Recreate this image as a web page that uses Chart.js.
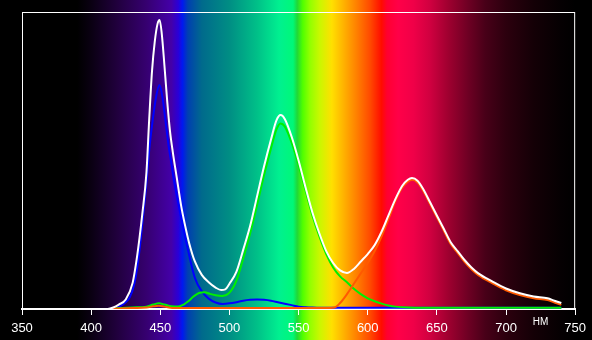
<!DOCTYPE html>
<html>
<head>
<meta charset="utf-8">
<script src="https://cdn.jsdelivr.net/npm/chart.js@4.4.1/dist/chart.umd.min.js"></script>
<style>
  html, body { margin: 0; padding: 0; background: #000; }
  #wrap { width: 592px; height: 340px; }
</style>
</head>
<body>
<div id="wrap"><canvas id="spectrum"></canvas></div>
<script>
// wavelength axis (nm)
const tickMin = 350;
const tickMax = 750;
const tickStep = 50;
const unitLabel = 'НМ';

// white field spectrum
const whiteNm  = [405, 412, 416, 420, 425, 430, 433, 435, 437, 440, 442, 444, 446, 448, 449.5, 451, 453, 455, 457, 459, 462, 465, 468, 471, 475, 480, 485, 490, 494, 497, 500, 505, 510, 515, 520, 525, 530, 534, 537, 540, 545, 550, 555, 560, 565, 570, 575, 580, 585, 590, 595, 600, 605, 610, 615, 620, 625, 629, 632, 636, 640, 645, 650, 655, 660, 665, 670, 675, 680, 690, 700, 710, 720, 730, 735, 740];
const whiteVal = [0, 0, 0.5, 1.5, 3.2, 8.8, 17, 24, 32, 46, 64, 80, 90, 96, 97.3, 93, 82, 70, 60, 53, 44, 35, 28, 22, 16, 11.5, 9, 7.2, 6.4, 6.6, 8.5, 12.5, 20, 28, 38, 48, 57, 63.5, 65.3, 64, 58, 50, 41, 32.5, 25.5, 19.5, 15.5, 13, 12.1, 13.5, 16, 18.5, 21.5, 26, 31.5, 37, 41.5, 43.5, 44.1, 43.2, 40.5, 36, 31.5, 27, 22.5, 19.5, 16.5, 14, 12, 9.3, 6.9, 5.3, 4.2, 3.6, 2.8, 2.0];

// red field spectrum
const redNm  = [415, 430, 440, 445, 449, 453, 460, 570, 576, 580, 585, 590, 595, 600, 605, 610, 615, 620, 625, 629, 632, 636, 640, 645, 650, 655, 660, 665, 670, 675, 680, 690, 700, 710, 720, 730, 735, 740];
const redVal = [0.1, 0.3, 0.5, 0.9, 1.1, 0.8, 0.3, 0.3, 0.5, 2, 5, 8.5, 12, 15.5, 19.5, 24.5, 30.3, 36.4, 40.9, 42.9, 43.5, 42.6, 39.9, 35.4, 30.9, 26.4, 21.9, 18.9, 15.9, 13.4, 11.4, 8.7, 6.3, 4.7, 3.6, 3.0, 2.2, 1.4];

// green field spectrum
const greenNm  = [415, 420, 430, 440, 445, 449, 453, 458, 463, 467, 470, 474, 478, 482, 486, 490, 495, 500, 505, 510, 515, 520, 525, 530, 534, 537, 540, 545, 550, 555, 560, 565, 570, 575, 580, 585, 590, 595, 600, 605, 610, 615, 620, 630, 650, 740];
const greenVal = [0, 0.3, 0.5, 0.8, 1.5, 1.9, 1.5, 0.9, 0.8, 1.5, 2.5, 4.2, 5.4, 5.6, 5.1, 4.6, 4.4, 5.5, 9.5, 17, 25.5, 35, 45, 54, 60.5, 62.5, 61.5, 56, 48.5, 40, 31.5, 24.5, 18.5, 14, 11, 9, 6.8, 5, 3.6, 2.6, 1.8, 1.2, 0.8, 0.5, 0.4, 0.4];

// blue field spectrum
const blueNm  = [414, 418, 421, 425, 428, 431, 433, 435, 437.5, 440, 442, 444.5, 447, 449.4, 451.5, 453.7, 456, 458, 460, 465, 470, 475, 480, 485, 490, 495, 500, 505, 510, 515, 520, 525, 530, 535, 540, 545, 550, 555, 560, 570, 740];
const blueVal = [0, 0.5, 1, 2.3, 4, 8, 13, 19.9, 31, 42.5, 53.5, 63.5, 71.5, 75.4, 71.5, 63.6, 55, 49, 43, 31, 19.9, 10.5, 6, 3.5, 2.2, 1.7, 1.9, 2.3, 2.8, 3.1, 3.2, 3.1, 2.8, 2.3, 1.8, 1.3, 0.8, 0.6, 0.5, 0.4, 0.4];

// background spectrum colours
const bandNm  = [350, 390, 400, 420, 440, 458, 463, 466, 470, 480, 500, 520, 536, 546, 549, 553, 558, 565, 574, 583, 592, 602, 610, 614, 622, 633, 645, 658, 672, 685, 700, 720, 740, 750];
const bandCol = ['#000000', '#000000', '#0a0012', '#220040', '#360070', '#4400a8', '#2a00d8', '#0018f0', '#0040b0', '#006a8c', '#008e84', '#00c088', '#00f090', '#00f878', '#20d838', '#50ff00', '#90ff00', '#c8f800', '#ffe000', '#ffb000', '#ff8000', '#ff4800', '#ff0c00', '#ff0030', '#ff0048', '#f00048', '#d00040', '#a00030', '#700024', '#480018', '#2c000e', '#140006', '#050002', '#000000'];

function pts(xs, ys) {
    return xs.map((x, i) => ({ x: x, y: ys[i] }));
}

const spectrumBackground = {
    id: 'spectrumBackground',
    beforeDraw(chart) {
        const ctx = chart.ctx;
        const xs = chart.scales.x;
        const x0 = xs.getPixelForValue(bandNm[0]);
        const x1 = xs.getPixelForValue(bandNm[bandNm.length - 1]);
        const grad = ctx.createLinearGradient(x0, 0, x1, 0);
        bandNm.forEach((w, i) => {
            grad.addColorStop((xs.getPixelForValue(w) - x0) / (x1 - x0), bandCol[i]);
        });
        ctx.save();
        ctx.fillStyle = '#000';
        ctx.fillRect(0, 0, chart.width, chart.height);
        ctx.fillStyle = grad;
        ctx.fillRect(x0, 0, x1 - x0, chart.height);
        ctx.restore();
    },
    afterDraw(chart) {
        const ctx = chart.ctx;
        const a = chart.chartArea;
        ctx.save();
        ctx.strokeStyle = '#fff';
        ctx.lineWidth = 1;
        ctx.strokeRect(a.left + 0.5, a.top + 0.5, a.right - a.left - 1, a.bottom - a.top);
        ctx.fillStyle = '#fff';
        ctx.font = '10px "Liberation Sans", Arial, sans-serif';
        ctx.textAlign = 'center';
        ctx.textBaseline = 'middle';
        ctx.fillText(unitLabel, 540.5, 322);
        ctx.restore();
    }
};

function line(data, color) {
    return {
        data: data,
        borderColor: color,
        borderWidth: 2,
        pointRadius: 0,
        fill: false,
        cubicInterpolationMode: 'monotone'
    };
}

new Chart(document.getElementById('spectrum'), {
    type: 'line',
    data: {
        datasets: [
            line(pts(whiteNm, whiteVal), '#ffffff'),
            line(pts(redNm, redVal), '#ff5a00'),
            line(pts(greenNm, greenVal), '#00f000'),
            line(pts(blueNm, blueVal), '#0000ff')
        ]
    },
    options: {
        responsive: true,
        maintainAspectRatio: false,
        animation: false,
        layout: { padding: { left: 22, right: 15, top: 12, bottom: 0 } },
        plugins: { legend: { display: false }, tooltip: { enabled: false } },
        scales: {
            x: {
                type: 'linear',
                min: tickMin,
                max: tickMax,
                afterFit(scale) { scale.height = 31; },
                ticks: {
                    stepSize: tickStep,
                    color: '#fff',
                    padding: 6,
                    maxRotation: 0,
                    font: { family: '"Liberation Sans", Arial, sans-serif', size: 13 }
                },
                grid: { drawOnChartArea: false, color: '#fff', tickLength: 6, lineWidth: 1 },
                border: { display: true, color: '#fff', width: 2 }
            },
            y: { display: false, min: 0, max: 100 }
        }
    },
    plugins: [spectrumBackground]
});
</script>
</body>
</html>
